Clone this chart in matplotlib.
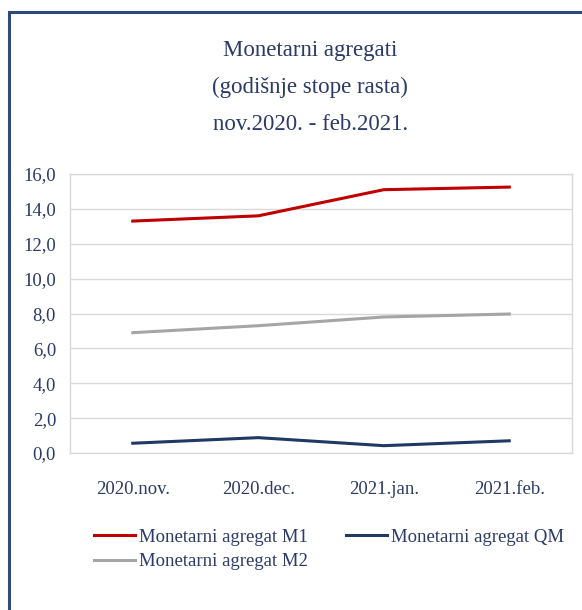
import numpy as np
import matplotlib.pyplot as plt
from matplotlib.patches import Rectangle

categories = ["2020.nov.", "2020.dec.", "2021.jan.", "2021.feb."]
m1 = [13.3, 13.6, 15.1, 15.25]
qm = [0.56, 0.88, 0.42, 0.70]
m2 = [6.9, 7.3, 7.8, 7.97]
yticks = [0, 2, 4, 6, 8, 10, 12, 14, 16]

navy = "#1F3864"
txt = "#2B3A67"
grid = "#D9D9D9"

plt.rcParams['font.family'] = ['Liberation Serif', 'DejaVu Serif']

fig = plt.figure(figsize=(5.82, 6.10), dpi=100)
# outer frame
fig.patches.append(Rectangle((9/582, -0.01), 1.0, 1 - 12/610 + 0.01, transform=fig.transFigure,
                             fill=False, edgecolor="#2F4A7A", linewidth=2.2))

ax = fig.add_axes([70/582, 157/610, 502/582, 279/610])
x = np.arange(len(categories))
l1, = ax.plot(x, m1, color="#C00000", lw=2.2, label="Monetarni agregat M1")
l3, = ax.plot(x, qm, color=navy, lw=2.2, label="Monetarni agregat QM")
l2, = ax.plot(x, m2, color="#A5A5A5", lw=2.2, label="Monetarni agregat M2")

ax.set_xlim(-0.5, len(categories) - 0.5)
ax.set_ylim(0, 16)
ax.set_yticks(yticks)
ax.set_yticklabels([f"{v:.1f}".replace(".", ",") for v in yticks])
ax.set_xticks(x)
ax.set_xticklabels(categories)
ax.tick_params(length=0, labelsize=13.5, colors=txt)
ax.tick_params(axis='x', pad=20)
ax.tick_params(axis='y', pad=10)
ax.grid(axis='y', color=grid, lw=1)
for s in ax.spines.values():
    s.set_color(grid)
    s.set_linewidth(1)
ax.set_axisbelow(True)

fig.text(0.533, 0.857, "Monetarni agregati\n(godišnje stope rasta)\nnov.2020. - feb.2021.",
         ha='center', va='center', fontsize=16.5, color=txt, linespacing=2.0)

# column-wise fill: M1, M2 in first column, QM in second
fig.legend([l1, l2, l3], [l1.get_label(), l2.get_label(), l3.get_label()],
           loc='center', bbox_to_anchor=(0.565, 0.099), ncol=2,
           frameon=False, fontsize=13.5, labelcolor=txt, handlelength=2.2,
           handletextpad=0.2, columnspacing=2.0, labelspacing=0.4)

fig.savefig("out.png", dpi=100)
